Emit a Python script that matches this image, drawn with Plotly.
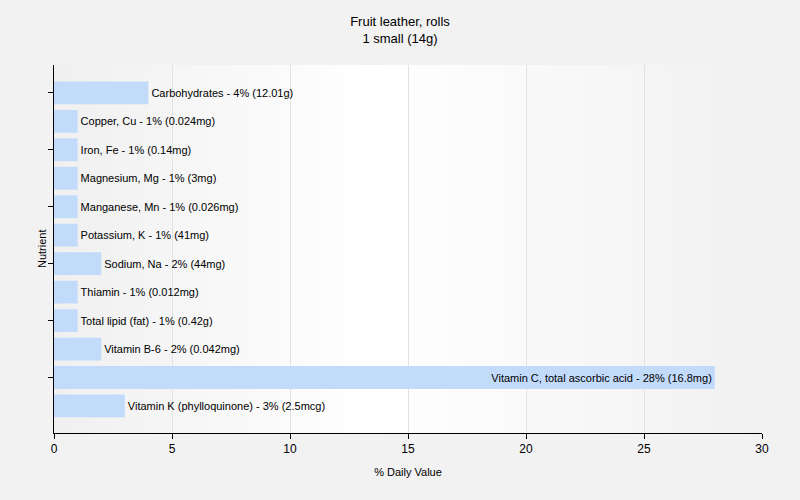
import plotly.graph_objects as go

nutrients = ["Carbohydrates", "Copper, Cu", "Iron, Fe", "Magnesium, Mg", "Manganese, Mn",
             "Potassium, K", "Sodium, Na", "Thiamin", "Total lipid (fat)", "Vitamin B-6",
             "Vitamin C, total ascorbic acid", "Vitamin K (phylloquinone)"]
values = [4, 1, 1, 1, 1, 1, 2, 1, 1, 2, 28, 3]
amounts = ["12.01g", "0.024mg", "0.14mg", "3mg", "0.026mg", "41mg", "44mg", "0.012mg",
           "0.42g", "0.042mg", "16.8mg", "2.5mcg"]
x_ticks = [0, 5, 10, 15, 20, 25, 30]

labels = [f"{n} - {v}% ({a})" for n, v, a in zip(nutrients, values, amounts)]
positions = ["inside" if v > 15 else "outside" for v in values]

fnt = "Liberation Sans, Arial"

fig = go.Figure()
fig.add_trace(go.Bar(
    y=nutrients, x=values, orientation="h", width=0.8,
    marker=dict(color="#c3dbfb", line=dict(width=0)),
    text=labels, textposition=positions, insidetextanchor="end",
    textfont=dict(family=fnt, size=11, color="#000000"),
    insidetextfont=dict(family=fnt, size=11, color="#000000"),
    outsidetextfont=dict(family=fnt, size=11, color="#000000"),
    cliponaxis=False, hoverinfo="skip",
))

# background gradient for the plot area
shapes = []
n = 60
def col(t):
    if t < 0.45:
        f = t / 0.45
        c = 240 + (255 - 240) * f
    else:
        f = (t - 0.45) / 0.55
        c = 255 - (255 - 241) * f
    c = int(round(c))
    return f"rgb({c},{c},{c})"
for i in range(n):
    x0 = i / n
    x1 = (i + 1) / n + 0.002
    shapes.append(dict(type="rect", xref="x domain", yref="y domain", x0=x0, x1=min(x1, 1),
                       y0=0, y1=1, fillcolor=col((i + 0.5) / n), line=dict(width=0), layer="below"))

fig.update_layout(
    width=800, height=500,
    margin=dict(l=54, r=38, t=65, b=67),
    paper_bgcolor="#f2f2f2", plot_bgcolor="#f8f8f8",
    shapes=shapes,
    title=dict(text="Fruit leather, rolls<br>1 small (14g)", x=0.5, xanchor="center",
               y=0.972 - 12 / 500, yanchor="top", yref="container",
               font=dict(family=fnt, size=13, color="#000000")),
    showlegend=False,
    font=dict(family=fnt, size=12, color="#000000"),
    annotations=[dict(text="Nutrient", textangle=-90, xref="paper", yref="paper",
                      x=(42 - 54) / 708, y=0.5, xanchor="center", yanchor="middle",
                      showarrow=False, font=dict(family=fnt, size=11, color="#000000"))],
)
fig.update_xaxes(
    range=[0, 30], tickvals=x_ticks, ticks="outside", ticklen=5, tickcolor="#000000",
    showline=True, linecolor="#000000", linewidth=1, automargin=False,
    showgrid=True, gridcolor="#e2e2e2", gridwidth=1, zeroline=False,
    tickfont=dict(size=12), layer="below traces",
    title=dict(text="% Daily Value", font=dict(size=11), standoff=12),
)
fig.update_yaxes(
    categoryorder="array", categoryarray=nutrients,
    range=[11.95, -0.98], automargin=False,
    tickmode="array", tickvals=[nutrients[i] for i in range(0, 12, 2)],
    ticktext=["" for _ in range(0, 12, 2)],
    ticks="outside", ticklen=5, tickcolor="#000000",
    showline=True, linecolor="#000000", linewidth=1, showgrid=False, zeroline=False,
)

fig.write_html("out.html", config={"displayModeBar": False},
               post_script="document.body.style.margin='0px';")
